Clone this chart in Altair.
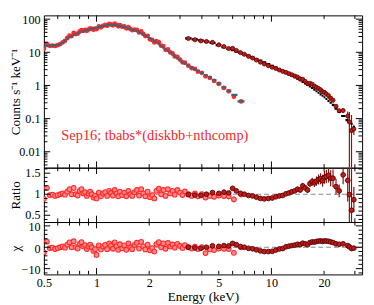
import altair as alt
import pandas as pd
import numpy as np

# ---------------- data ----------------
# soft-band spectrum (red points, grey model)
E_s = [0.50, 0.52, 0.54, 0.56, 0.58, 0.60, 0.62, 0.64, 0.66, 0.68,
       0.70, 0.72, 0.74, 0.76, 0.78, 0.80, 0.82, 0.84, 0.86, 0.88,
       0.90, 0.92, 0.94, 0.96, 0.98, 1.00, 1.03, 1.06, 1.09, 1.12,
       1.15, 1.18, 1.21, 1.24, 1.27, 1.30, 1.33, 1.36, 1.40, 1.44,
       1.48, 1.52, 1.56, 1.60, 1.65, 1.70, 1.75, 1.80, 1.85, 1.90,
       1.96, 2.02, 2.08, 2.14, 2.20, 2.27, 2.34, 2.41, 2.48, 2.56,
       2.64, 2.72, 2.80, 2.90, 3.00, 3.10, 3.20, 3.35, 3.50, 3.65,
       3.80, 4.00, 4.20, 4.45, 4.70, 5.00, 5.35, 5.70, 6.10, 6.70]
M_s = [14.5, 15.5, 16.0, 16.0, 16.2, 16.8, 17.8, 19.5, 22.5, 25.5,
       28.5, 31.0, 33.5, 35.5, 37.5, 39.5, 41.5, 43.5, 45.0, 46.5,
       48.0, 49.5, 51.0, 52.5, 54.0, 55.5, 58.0, 60.0, 62.0, 64.0,
       65.5, 66.5, 67.0, 67.0, 66.5, 65.5, 64.0, 62.5, 60.5, 58.0,
       55.5, 53.0, 50.5, 48.5, 46.0, 43.5, 41.0, 38.0, 35.0, 32.5,
       29.5, 26.5, 24.0, 22.0, 20.0, 17.8, 15.8, 14.0, 12.4, 11.0,
       9.7, 8.6, 7.6, 6.6, 5.8, 5.1, 4.6, 3.95, 3.45, 3.1,
       2.75, 2.4, 2.05, 1.75, 1.45, 1.15, 0.88, 0.70, 0.52, 0.33]
R_s = [0.89, 1.15, 0.98, 0.99, 0.96, 0.98, 1.00, 1.02, 0.99, 1.06,
       1.12, 1.00, 1.15, 1.00, 0.97, 1.08, 1.12, 1.02, 1.05, 0.96,
       1.02, 1.06, 1.00, 0.92, 0.96, 0.90, 1.04, 0.95, 1.02, 1.05,
       0.96, 1.08, 1.03, 0.97, 1.10, 1.02, 0.95, 1.06, 0.98, 1.04,
       0.95, 1.08, 1.00, 0.96, 1.05, 1.10, 0.97, 1.12, 1.02, 0.95,
       1.06, 0.93, 0.98, 0.90, 1.08, 1.13, 1.00, 1.10, 0.96, 1.12,
       1.02, 1.08, 0.99, 1.10, 1.04, 0.98, 1.07, 1.00, 0.96, 1.02,
       0.95, 1.00, 0.92, 0.96, 0.94, 0.97, 0.96, 0.95, 0.88, 1.00]
X_s = [-2.4, 2.6, -0.4, -0.2, -0.8, -0.4, 0.0, 0.4, -0.2, 1.2,
       2.3, 0.0, 2.8, 0.1, -0.6, 1.6, 2.4, 0.4, 1.0, -0.8,
       0.4, 1.2, 0.0, -1.7, -0.9, -3.6, 0.9, -1.1, 0.4, 1.1,
       -0.9, 1.8, 0.7, -0.7, 2.3, 0.5, -1.2, 1.4, -0.5, 0.9,
       -1.2, 1.8, 0.0, -0.9, 1.1, 2.1, -0.6, 2.5, 0.4, -1.0,
       1.2, -1.4, -0.4, -2.0, 1.5, 2.4, 0.0, 1.8, -0.7, 2.0,
       0.3, 1.3, -0.2, 1.6, 0.6, -0.3, 1.0, 0.0, -0.6, 0.3,
       -0.8, 0.0, -2.7, -1.0, -1.3, -0.6, -0.7, -0.8, -2.6, 0.0]
Re_s = [0.05] * 10 + [0.04] * 54 + [0.05] * 8 + [0.06] * 4 + [0.08] * 4

# hard-band spectrum (dark red points, black model)
E_h = [3.35, 3.65, 3.95, 4.25, 4.60, 5.00, 5.35, 5.70, 6.00, 6.30,
       6.65, 7.00, 7.40, 7.80, 8.20, 8.65, 9.10, 9.60, 10.1, 10.6,
       11.1, 11.6, 12.1, 12.6, 13.1, 13.6, 14.1, 14.6, 15.1, 15.6,
       16.1, 16.6, 17.1, 17.6, 18.1, 18.6, 19.1, 19.6, 20.1, 20.6,
       21.2, 21.8, 22.5, 23.4, 24.4, 25.7, 27.3, 27.9, 28.7, 29.6]
M_h = [26.3, 24.5, 22.8, 21.2, 19.2, 16.5, 14.2, 12.6, 11.5, 10.5,
       9.6, 8.7, 7.8, 7.0, 6.3, 5.6, 5.0, 4.4, 3.9, 3.45,
       3.05, 2.75, 2.45, 2.2, 1.98, 1.78, 1.6, 1.43, 1.28, 1.15,
       1.03, 0.93, 0.84, 0.75, 0.67, 0.6, 0.54, 0.49, 0.44, 0.39,
       0.34, 0.3, 0.26, 0.2, 0.16, 0.12, 0.09, 0.08, 0.07, 0.056]
R_h = [0.99, 0.98, 0.97, 1.00, 1.04, 1.02, 1.05, 1.03, 1.14, 1.08,
       1.02, 1.00, 0.97, 0.96, 0.93, 0.90, 0.89, 0.90, 0.91, 0.94,
       0.96, 0.97, 1.01, 1.03, 1.06, 1.08, 1.12, 1.10, 1.20, 1.15,
       1.10, 1.25, 1.30, 1.27, 1.31, 1.35, 1.37, 1.32, 1.40, 1.42,
       1.45, 1.38, 1.38, 1.18, 1.08, 1.46, 1.33, 0.99, 0.62, 0.87]
X_h = [0.0, -0.3, -0.5, 0.0, 0.7, 0.4, 0.8, 0.6, 1.8, 1.2,
       0.3, 0.0, -0.5, -0.7, -1.2, -1.7, -2.0, -2.0, -1.9, -1.3,
       -0.8, -0.6, 0.2, 0.5, 0.8, 1.0, 1.4, 1.2, 1.9, 1.6,
       1.2, 2.2, 2.5, 2.4, 2.7, 2.9, 3.0, 2.7, 3.0, 2.9,
       2.8, 2.5, 2.2, 1.6, 1.4, 1.6, 0.8, 0.2, -0.6, -0.4]
Re_h = ([0.012] * 12 + [0.015] * 6 +
        [0.02, 0.02, 0.025, 0.025, 0.03, 0.03,
         0.035, 0.04, 0.045, 0.05, 0.055, 0.06,
         0.07, 0.08, 0.09, 0.10, 0.11, 0.12, 0.13, 0.14,
         0.15, 0.16, 0.17, 0.19,
         0.21, 0.18, 0.15, 0.22, 0.50, 1.00, 1.20, 0.30])

ratio_ref = [1.0]
chi_ref = [0.0]

x_labels = [0.5, 1, 2, 5, 10, 20]
x_major = [1, 10]
x_minor = [0.6, 0.7, 0.8, 0.9, 2, 3, 4, 5, 6, 7, 8, 9, 20, 30]
y1_major = [0.01, 0.1, 1, 10, 100]
y1_minor = [0.004, 0.005, 0.006, 0.007, 0.008, 0.009,
            0.02, 0.03, 0.04, 0.05, 0.06, 0.07, 0.08, 0.09,
            0.2, 0.3, 0.4, 0.5, 0.6, 0.7, 0.8, 0.9,
            2, 3, 4, 5, 6, 7, 8, 9,
            20, 30, 40, 50, 60, 70, 80, 90]
y2_major = [0.5, 1.0, 1.5]
y2_minor = [0.4, 0.6, 0.7, 0.8, 0.9, 1.1, 1.2, 1.3, 1.4, 1.6]
y3_major = [-10, 0, 10]
y3_minor = [-12, -8, -6, -4, -2, 2, 4, 6, 8]

label_text = "Sep16; tbabs*(diskbb+nthcomp)"

# ---------------- style ----------------
FONT = "Liberation Serif"
LFS = 12.5   # tick label size
TFS = 13.5   # axis title size
W, H1, H2, H3 = 328, 157, 56, 54
RED = "#ff2a2a"
PINK = "#ff8a8a"
DRED = "#c01a1a"
DDRED = "#5a0000"
ERRS = "#ff6a6a"
ERRH = "#8b1010"
GREYM = "#4d5d6d"
REFC = "#8a8a8a"
TICKC = "black"
MAJ, MIN = 6.5, 3.7
Y1D = [0.0033, 130]
Y2D = [0.34, 1.63]
Y3D = [-12.7, 11.8]
LOWCLAMP = 0.0034


def bin_edges(E):
    E = np.asarray(E, float)
    mids = np.sqrt(E[:-1] * E[1:])
    lo = np.concatenate([[E[0] ** 2 / mids[0]], mids])
    hi = np.concatenate([mids, [E[-1] ** 2 / mids[-1]]])
    return lo, hi


soft = pd.DataFrame({"E": E_s, "M": M_s, "R": R_s, "X": X_s, "Re": Re_s})
soft["C"] = soft.M * soft.R
soft["Elo"], soft["Ehi"] = bin_edges(E_s)
soft["Rlo"] = soft.R - soft.Re
soft["Rhi"] = soft.R + soft.Re

hard = pd.DataFrame({"E": E_h, "M": M_h, "R": R_h, "X": X_h, "Re": Re_h})
hard["C"] = hard.M * hard.R
hard["Elo"], hard["Ehi"] = bin_edges(E_h)
hard["Rlo"] = hard.R - hard.Re
hard["Rhi"] = hard.R + hard.Re
hard["Clow"] = np.maximum(hard.M * hard.Rlo, LOWCLAMP)
hard["Chigh"] = hard.M * hard.Rhi

xscale = alt.Scale(type="log", domain=[0.5, 33], nice=False)


def yaxis(values, title, fmt, loff=0):
    return alt.Axis(values=values, format=fmt, title=title, ticks=False, tickSize=0,
                    domain=False, grid=False, labelFont=FONT, labelFontSize=LFS,
                    labelColor="black", labelPadding=4, labelOffset=loff, titleFont=FONT,
                    titleFontSize=TFS, titleFontWeight="normal", titleColor="black",
                    titlePadding=2.5, minExtent=20, maxExtent=20, labelFlush=False)


xaxis_bottom = alt.Axis(values=x_labels, format="~g", title="Energy (keV)", ticks=False,
                        tickSize=0, domain=False, grid=False, labelFont=FONT,
                        labelFontSize=LFS, labelColor="black", labelPadding=2,
                        titleFont=FONT, titleFontSize=TFS, titleFontWeight="normal",
                        titleColor="black", titlePadding=1, labelFlush=False)


def make_panel(H, yfield, yscale, yax, ymaj, ymin, xax, layers):
    def XE(f="E"):
        return alt.X(f"{f}:Q", scale=xscale, axis=xax)

    def YE(f=yfield):
        return alt.Y(f"{f}:Q", scale=yscale, axis=yax)

    out = []
    for build in layers:
        out.append(build(XE, YE))
    for vals, L in [(x_major, MAJ), (x_minor, MIN)]:
        b = alt.Chart(pd.DataFrame({"E": vals})).mark_rule(color=TICKC, strokeWidth=1).encode(x=XE())
        out.append(b.encode(y=alt.value(H), y2=alt.value(H - L)))
        out.append(b.encode(y=alt.value(0), y2=alt.value(L)))
    for vals, L in [(ymaj, MAJ), (ymin, MIN)]:
        b = alt.Chart(pd.DataFrame({yfield: vals})).mark_rule(color=TICKC, strokeWidth=1).encode(y=YE())
        out.append(b.encode(x=alt.value(0), x2=alt.value(L)))
        out.append(b.encode(x=alt.value(W), x2=alt.value(W - L)))
    return alt.layer(*out).properties(width=W, height=H)


# ---------- top panel ----------
y1scale = alt.Scale(type="log", domain=Y1D, nice=False)
y1ax = yaxis(y1_major, "Counts s\u207b\u00b9 keV\u207b\u00b9", "~g")


def top_layers():
    def soft_pts(XE, YE):
        return alt.Chart(soft).mark_circle(size=24, color=RED, opacity=1, clip=True).encode(x=XE(), y=YE("C"))

    def soft_model(XE, YE):
        return alt.Chart(soft).mark_rule(color=GREYM, strokeWidth=2.4, clip=True).encode(
            x=XE("Elo"), x2="Ehi:Q", y=YE("M"))

    def hard_err(XE, YE):
        return alt.Chart(hard).mark_rule(color=ERRH, strokeWidth=1.2, clip=True).encode(
            x=XE(), y=YE("Clow"), y2="Chigh:Q")

    def hard_model(XE, YE):
        return alt.Chart(hard).mark_rule(color="black", strokeWidth=2.2, clip=True).encode(
            x=XE("Elo"), x2="Ehi:Q", y=YE("M"))

    def hard_pts(XE, YE):
        return alt.Chart(hard).mark_point(shape="circle", size=18, filled=True, fill=DRED,
                                          stroke=DDRED, strokeWidth=0.8, opacity=1, clip=True).encode(
            x=XE(), y=YE("C"))

    def txt(XE, YE):
        return alt.Chart(pd.DataFrame({"t": [label_text]})).mark_text(
            align="left", baseline="middle", x=18, y=124, font=FONT, fontSize=14.8,
            color="#f0282a").encode(text="t:N")

    return [soft_pts, soft_model, hard_err, hard_model, hard_pts, txt]


def resid_layers(vfield, lofield, hifield, ref):
    def refline(XE, YE):
        return alt.Chart(pd.DataFrame({vfield: ref})).mark_rule(
            color=REFC, strokeDash=[5, 3], strokeWidth=1.2).encode(y=YE())

    def soft_err(XE, YE):
        return alt.Chart(soft).mark_rule(color=ERRS, strokeWidth=1, clip=True).encode(
            x=XE(), y=YE(lofield), y2=f"{hifield}:Q")

    def soft_pts(XE, YE):
        return alt.Chart(soft).mark_point(shape="circle", size=24, filled=True, fill=PINK,
                                          stroke=RED, strokeWidth=1.1, opacity=1, clip=True).encode(
            x=XE(), y=YE(vfield))

    def hard_err(XE, YE):
        return alt.Chart(hard).mark_rule(color=ERRH, strokeWidth=1.2, clip=True).encode(
            x=XE(), y=YE(lofield), y2=f"{hifield}:Q")

    def hard_pts(XE, YE):
        return alt.Chart(hard).mark_point(shape="circle", size=24, filled=True, fill=DRED,
                                          stroke=DDRED, strokeWidth=0.9, opacity=1, clip=True).encode(
            x=XE(), y=YE(vfield))

    layers = [refline]
    if lofield:
        layers.append(soft_err)
    layers.append(soft_pts)
    if lofield:
        layers.append(hard_err)
    layers.append(hard_pts)
    return layers


top = make_panel(H1, "C", y1scale, y1ax, y1_major, y1_minor, None, top_layers())

y2scale = alt.Scale(domain=Y2D, nice=False, zero=False)
ratio = make_panel(H2, "R", y2scale, yaxis(y2_major, "Ratio", "~g", -1), y2_major, y2_minor, None,
                   resid_layers("R", "Rlo", "Rhi", ratio_ref))

y3scale = alt.Scale(domain=Y3D, nice=False, zero=False)
chi = make_panel(H3, "X", y3scale, yaxis(y3_major, "\u03c7", "d", 1), y3_major, y3_minor, xaxis_bottom,
                 resid_layers("X", None, None, chi_ref))

chart = alt.vconcat(top, ratio, chi, spacing=0, bounds="flush").properties(
    padding={"left": 0, "top": 0, "right": 2, "bottom": 0}
).configure_view(stroke="black", strokeWidth=1).configure_concat(spacing=0)

chart.save("out.html", embed_options={"renderer": "svg", "actions": False})
